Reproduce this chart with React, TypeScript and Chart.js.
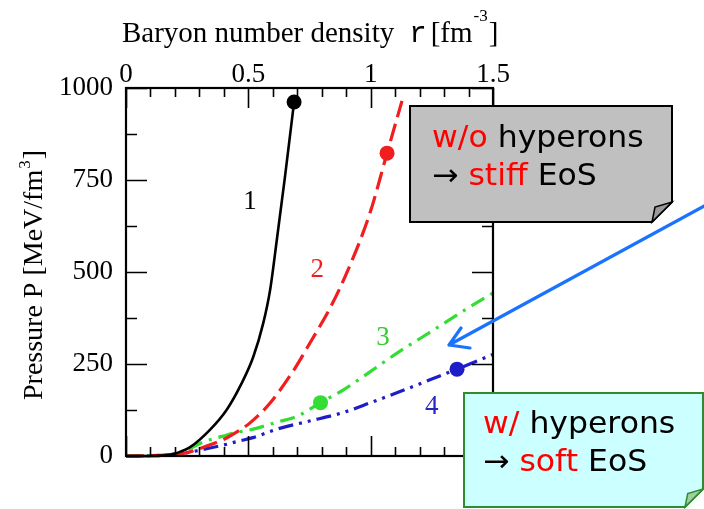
import React, { useEffect, useRef } from 'react';
import { Chart, registerables } from 'chart.js';

Chart.register(...registerables);

// ---- axis ticks ----
const densityTicks = [0, 0.5, 1, 1.5];
const pressureTicks = [0, 250, 500, 750, 1000];
const densityMinorTicks = [0, 0.1, 0.2, 0.3, 0.4, 0.5, 0.6, 0.7, 0.8, 0.9, 1.0, 1.1, 1.2, 1.3, 1.4, 1.5];
const pressureMinorTicks = [0, 125, 250, 375, 500, 625, 750, 875, 1000];

// ---- curve 1 (black, solid) ----
const curve1X = [0, 0.1, 0.18, 0.207, 0.262, 0.343, 0.411, 0.473, 0.52, 0.561, 0.589, 0.616, 0.65, 0.687];
const curve1Y = [0, 0, 3, 8, 24, 71, 125, 198, 269, 361, 451, 585, 760, 962];

// ---- curve 2 (red, dashed) ----
const curve2X = [0, 0.18, 0.25, 0.3, 0.35, 0.411, 0.45, 0.507, 0.589, 0.691, 0.75, 0.834, 0.907, 0.997, 1.067, 1.128];
const curve2Y = [0, 3, 9, 20, 32, 49, 64, 90, 144, 239, 305, 402, 505, 660, 823, 965];

// ---- curve 3 (green, dash-dot) ----
const curve3X = [0, 0.2, 0.262, 0.316, 0.397, 0.452, 0.52, 0.617, 0.7, 0.795, 0.887, 1.0, 1.12, 1.242, 1.398, 1.5];
const curve3Y = [0, 3, 20, 38, 54, 64, 73, 92, 108, 145, 179, 230, 285, 336, 402, 443];

// ---- curve 4 (blue, dash-dot-dot) ----
const curve4X = [0, 0.15, 0.25, 0.33, 0.4, 0.458, 0.519, 0.617, 0.75, 0.887, 1.0, 1.12, 1.242, 1.353, 1.5];
const curve4Y = [0, 2, 9, 20, 30, 40, 50, 73, 95, 118, 145, 175, 207, 236, 276];

// ---- end markers (maximum-mass points) ----
const markerX = [0.687, 1.067, 0.795, 1.353];
const markerY = [962, 823, 145, 236];

// ---- curve number labels ----
const curveLabels = ['1', '2', '3', '4'];
const curveLabelX = [0.507, 0.782, 1.05, 1.25];
const curveLabelY = [690, 505, 321, 133];

const COLORS = ['#000000', '#f01e1e', '#33dd33', '#1e1ec8'];
const LABEL_COLORS = ['#000000', '#f01e1e', '#33cc33', '#2828c0'];

const SERIF = '"Liberation Serif", "Times New Roman", serif';
const SANS = '"DejaVu Sans", Verdana, sans-serif';

function lineDataset(xs: number[], ys: number[], color: string, dash: number[], width: number) {
  return {
    type: 'line' as const,
    data: xs.map((x, i) => ({ x, y: ys[i] })),
    borderColor: color,
    borderWidth: width,
    borderDash: dash,
    pointRadius: 0,
    cubicInterpolationMode: 'monotone' as const,
    fill: false,
    clip: 4,
  };
}

function drawFrame(chart: any) {
  const { ctx, chartArea, scales } = chart;
  const { left, right, top, bottom } = chartArea;
  const xs = scales.x;
  const ys = scales.y;
  ctx.save();
  ctx.setLineDash([]);
  ctx.strokeStyle = '#000000';
  ctx.lineWidth = 1.6;
  densityMinorTicks.forEach((v, i) => {
    const px = Math.round(xs.getPixelForValue(v)) + 0.5;
    const len = i % 5 === 0 ? 20 : 9;
    ctx.beginPath();
    ctx.moveTo(px, top);
    ctx.lineTo(px, top + len);
    ctx.moveTo(px, bottom);
    ctx.lineTo(px, bottom - len);
    ctx.stroke();
  });
  pressureMinorTicks.forEach((v, i) => {
    const py = Math.round(ys.getPixelForValue(v)) + 0.5;
    const len = i % 2 === 0 ? 21 : 11;
    ctx.beginPath();
    ctx.moveTo(left, py);
    ctx.lineTo(left + len, py);
    ctx.moveTo(right, py);
    ctx.lineTo(right - len, py);
    ctx.stroke();
  });
  ctx.lineWidth = 2.2;
  ctx.strokeRect(left, top, right - left, bottom - top);
  ctx.restore();
}

function drawPieces(ctx: CanvasRenderingContext2D, x: number, y: number, pieces: [string, string][], sx: number) {
  ctx.save();
  ctx.translate(x, y);
  ctx.scale(sx, 1);
  let cx = 0;
  for (const [text, color] of pieces) {
    ctx.fillStyle = color;
    ctx.fillText(text, cx, 0);
    cx += ctx.measureText(text).width;
  }
  ctx.restore();
}

function noteBox(
  ctx: CanvasRenderingContext2D,
  x: number, y: number, w: number, h: number, fold: number,
  fill: string, stroke: string, foldFill: string,
) {
  ctx.save();
  ctx.setLineDash([]);
  ctx.lineWidth = 2;
  ctx.lineJoin = 'miter';
  ctx.beginPath();
  ctx.moveTo(x, y);
  ctx.lineTo(x + w, y);
  ctx.lineTo(x + w, y + h - fold);
  ctx.lineTo(x + w - fold, y + h);
  ctx.lineTo(x, y + h);
  ctx.closePath();
  ctx.fillStyle = fill;
  ctx.fill();
  ctx.strokeStyle = stroke;
  ctx.stroke();
  // folded corner
  ctx.beginPath();
  ctx.moveTo(x + w, y + h - fold);
  ctx.lineTo(x + w - fold, y + h);
  ctx.lineTo(x + w - fold * 0.85, y + h - fold * 0.75);
  ctx.closePath();
  ctx.fillStyle = foldFill;
  ctx.fill();
  ctx.lineWidth = 1.5;
  ctx.stroke();
  ctx.restore();
}

const overlayPlugin = {
  id: 'overlay',
  afterDraw(chart: any) {
    const { ctx, scales } = chart;
    const xs = scales.x;
    const ys = scales.y;

    drawFrame(chart);

    ctx.save();
    // curve number labels
    ctx.font = `27px ${SERIF}`;
    ctx.textAlign = 'center';
    ctx.textBaseline = 'middle';
    curveLabels.forEach((t, i) => {
      ctx.fillStyle = LABEL_COLORS[i];
      ctx.fillText(t, xs.getPixelForValue(curveLabelX[i]), ys.getPixelForValue(curveLabelY[i]));
    });

    // top axis title
    ctx.textAlign = 'left';
    ctx.textBaseline = 'alphabetic';
    ctx.fillStyle = '#000';
    ctx.font = `29px ${SERIF}`;
    const t1 = 'Baryon number density';
    ctx.fillText(t1, 122, 42);
    let cx = 122 + ctx.measureText(t1).width + 15;
    ctx.font = `29px "Liberation Mono", monospace`;
    ctx.fillText('r', cx, 42);
    cx += ctx.measureText('r').width + 4;
    ctx.font = `29px ${SERIF}`;
    ctx.fillText('[fm', cx, 42);
    cx += ctx.measureText('[fm').width + 1;
    ctx.font = `17px ${SERIF}`;
    ctx.fillText('-3', cx, 21);
    cx += ctx.measureText('-3').width + 1;
    ctx.font = `29px ${SERIF}`;
    ctx.fillText(']', cx, 42);

    // left axis title (rotated)
    ctx.save();
    ctx.translate(42, 400);
    ctx.rotate(-Math.PI / 2);
    ctx.font = `28px ${SERIF}`;
    const t2 = 'Pressure P [MeV/fm';
    ctx.fillText(t2, 0, 0);
    let rx = ctx.measureText(t2).width + 1;
    ctx.font = `17px ${SERIF}`;
    ctx.fillText('3', rx, -12);
    rx += ctx.measureText('3').width + 1;
    ctx.font = `28px ${SERIF}`;
    ctx.fillText(']', rx, 0);
    ctx.restore();

    // note boxes
    noteBox(ctx, 410, 106, 262, 116, 20, '#c0c0c0', '#000000', '#9a9a9a');
    noteBox(ctx, 464, 393, 239, 114, 18, '#ccffff', '#2e8b2e', '#9fcf9f');

    ctx.font = `30px ${SANS}`;
    ctx.textAlign = 'left';
    ctx.textBaseline = 'alphabetic';
    drawPieces(ctx, 432, 147, [['w/o', '#ff0000'], [' hyperons', '#000000']], 1.05);
    drawPieces(ctx, 432, 185, [['→ ', '#000000'], ['stiff', '#ff0000'], [' EoS', '#000000']], 1.05);
    drawPieces(ctx, 483, 433, [['w/', '#ff0000'], [' hyperons', '#000000']], 1.05);
    drawPieces(ctx, 483, 471, [['→ ', '#000000'], ['soft', '#ff0000'], [' EoS', '#000000']], 1.05);

    // blue pointer arrow
    ctx.setLineDash([]);
    ctx.strokeStyle = '#1a73ff';
    ctx.lineWidth = 3.2;
    ctx.lineCap = 'round';
    ctx.beginPath();
    ctx.moveTo(708, 204);
    ctx.lineTo(449, 345);
    ctx.moveTo(449, 345);
    ctx.lineTo(470, 348);
    ctx.moveTo(449, 345);
    ctx.lineTo(461, 328);
    ctx.stroke();

    ctx.restore();
  },
};

export default function App() {
  const ref = useRef<HTMLCanvasElement>(null);

  useEffect(() => {
    if (!ref.current) return;
    const markerDatasets = markerX.map((x, i) => ({
      type: 'scatter' as const,
      data: [{ x, y: markerY[i] }],
      backgroundColor: COLORS[i],
      borderColor: COLORS[i],
      borderWidth: 0,
      pointRadius: 7.5,
      clip: false as any,
    }));
    const chart = new Chart(ref.current, {
      type: 'line',
      data: {
        datasets: [
          ...markerDatasets,
          lineDataset(curve1X, curve1Y, COLORS[0], [], 2.6),
          lineDataset(curve2X, curve2Y, COLORS[1], [18, 7], 3.2),
          lineDataset(curve3X, curve3Y, COLORS[2], [15, 7, 3, 7], 3.2),
          lineDataset(curve4X, curve4Y, COLORS[3], [15, 6, 3, 6, 3, 6], 3.2),
        ] as any,
      },
      options: {
        responsive: false,
        animation: false,
        events: [],
        layout: { padding: { left: 0, top: 0, right: 211, bottom: 53 } },
        plugins: { legend: { display: false }, tooltip: { enabled: false }, title: { display: false } },
        scales: {
          x: {
            type: 'linear',
            position: 'top',
            min: 0,
            max: 1.5,
            grid: { display: false, drawTicks: false },
            border: { display: false },
            afterBuildTicks: (s: any) => {
              s.ticks = densityTicks.map((v) => ({ value: v }));
            },
            ticks: {
              autoSkip: false,
              maxRotation: 0,
              padding: 0,
              color: '#000',
              font: { family: SERIF, size: 27, lineHeight: 1 },
              callback: (v: any) => String(v),
            },
            afterFit: (s: any) => {
              s.height = 88;
            },
          },
          y: {
            type: 'linear',
            position: 'left',
            min: 0,
            max: 1000,
            grid: { display: false, drawTicks: false },
            border: { display: false },
            afterBuildTicks: (s: any) => {
              s.ticks = pressureTicks.map((v) => ({ value: v }));
            },
            ticks: {
              autoSkip: false,
              padding: 13,
              color: '#000',
              font: { family: SERIF, size: 27, lineHeight: 1 },
              callback: (v: any) => String(v),
            },
            afterFit: (s: any) => {
              s.width = 126;
            },
          },
        },
      } as any,
      plugins: [overlayPlugin],
    });
    return () => chart.destroy();
  }, []);

  return (
    <div style={{ position: 'fixed', left: 0, top: 0, width: 704, height: 509, background: '#fff' }}>
      <canvas ref={ref} width={704} height={509} style={{ display: 'block', width: 704, height: 509 }} />
    </div>
  );
}
